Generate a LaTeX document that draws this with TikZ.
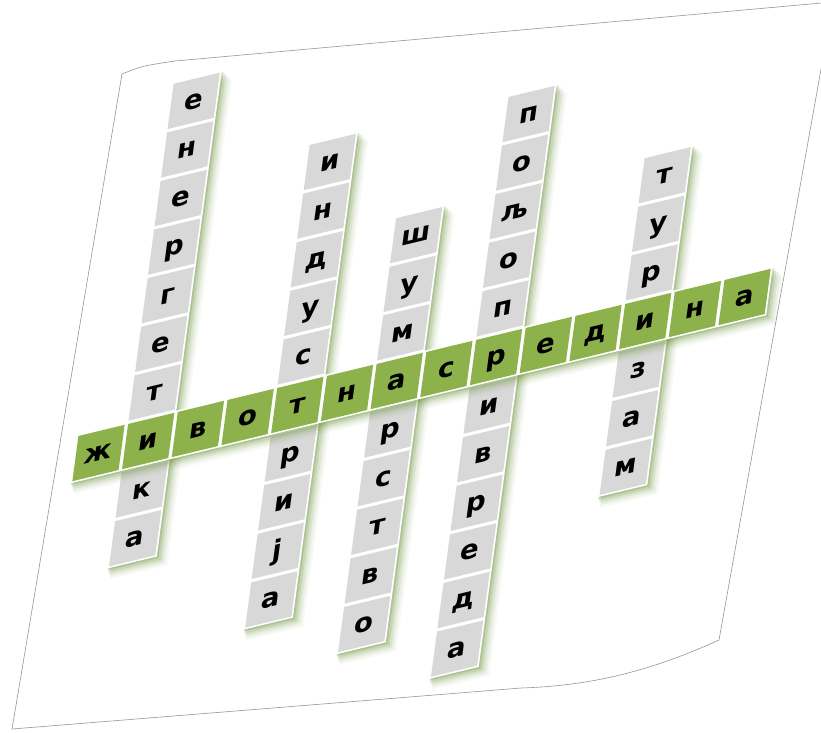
\documentclass[tikz,border=0pt]{standalone}
\usepackage{fontspec}
\setmainfont{DejaVu Sans}
\definecolor{cellgray}{RGB}{216,216,216}
\definecolor{cellgreen}{RGB}{141,178,76}
\definecolor{shadowgreen}{RGB}{105,145,55}
\definecolor{edgegray}{RGB}{150,150,150}
\tikzset{
  paperedge/.style={draw=edgegray, line width=0.6pt, fill=white},
  letter/.style={anchor=base, inner sep=0pt, transform shape, text=black,
    font=\bfseries\fontsize{26.5}{28}\selectfont},
}
% #1 = i, #2 = top j, #3 = bottom j, #4 = letters
\newcommand\mycolumn[4]{%
  \foreach \s/\o in {0.24/0.05,0.19/0.08,0.14/0.12,0.09/0.18,0.04/0.25}{%
    \fill[shadowgreen, opacity=\o] (#1-0.5+0.4*\s,#2-0.5+\s) -- (#1+0.5+\s,#2-0.5+\s)
      -- (#1+0.5+\s,#3+0.5+\s) -- (#1-0.5+0.4*\s,#3+0.5+\s) -- cycle;}
  \fill[white] (#1-0.5,#2-0.5) -- (#1+0.5,#2-0.5) -- (#1+0.5,#3+0.5) -- (#1-0.5,#3+0.5) -- cycle;
  \foreach \l [count=\k from 0, evaluate=\k as \j using {int(\k+#2)}] in {#4}{%
    \fill[cellgray] (#1-0.465,\j-0.465) -- (#1+0.465,\j-0.465) -- (#1+0.465,\j+0.465) -- (#1-0.465,\j+0.465) -- cycle;
    \node[letter] (col#1-\k) at (#1,\j+0.17) {\l};}
}
\begin{document}
\begin{tikzpicture}[x=1pt,y=-1pt]
\useasboundingbox (0,0) rectangle (821,732);
\clip (0,0) rectangle (821,732);
\fill[white] (0,0) rectangle (821,732);
% paper sheet
\draw[paperedge] (122,74) .. controls (142,66) .. (175,61) -- (833,2) -- (719,640)
  .. controls (640,676) and (580,686) .. (521,688) -- (12,729) -- cycle;
% crossword grid (affine frame)
\begin{scope}[cm={1.0354,0.25,0.1354,1.0125,(98.5pt,-453pt)}, x={(48pt,0pt)}, y={(0pt,-48pt)}]
  \mycolumn{1}{-7}{2}{е,н,е,р,г,е,т,и,к,а}
  \mycolumn{4}{-5}{4}{и,н,д,у,с,т,р,и,ј,а}
  \mycolumn{6}{-3}{5}{ш,у,м,а,р,с,т,в,о}
  \mycolumn{8}{-5}{6}{п,о,љ,о,п,р,и,в,р,е,д,а}
  \mycolumn{11}{-3}{3}{т,у,р,и,з,а,м}
  % horizontal word
  \foreach \s/\o in {0.24/0.05,0.19/0.08,0.14/0.12,0.09/0.18,0.04/0.25}{%
    \fill[shadowgreen, opacity=\o] (-0.5+0.4*\s,-0.5+\s) -- (13.5+\s,-0.5+\s)
      -- (13.5+\s,0.5+\s) -- (-0.5+0.4*\s,0.5+\s) -- cycle;}
  \fill[white] (-0.5,-0.5) -- (13.5,-0.5) -- (13.5,0.5) -- (-0.5,0.5) -- cycle;
  \foreach \l [count=\k from 0] in {ж,и,в,о,т,н,а,с,р,е,д,и,н,а}{%
    \fill[cellgreen] (\k-0.465,-0.465) -- (\k+0.465,-0.465) -- (\k+0.465,0.465) -- (\k-0.465,0.465) -- cycle;
    \node[letter] (row-\k) at (\k,0.17) {\l};}
\end{scope}
\end{tikzpicture}
\end{document}
